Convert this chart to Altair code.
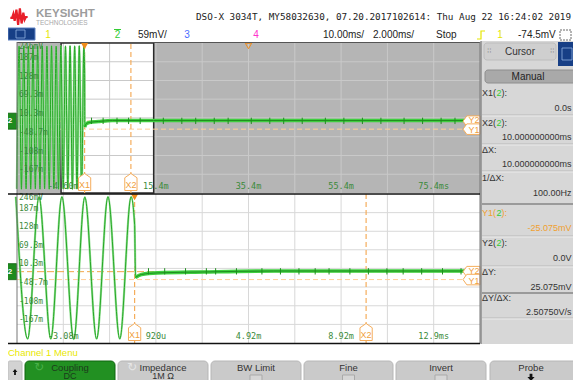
import altair as alt
import pandas as pd

# ---------------- values read from the screen ----------------
# channel 2 trace: time in ms, level in mV (extrema of the 1 kHz burst, then the settled level)
PEAK_T = [-14.14, -13.14, -12.14, -11.14, -10.14, -9.14, -8.14, -7.14, -6.14, -5.13, -4.13, -3.14, -2.15, -1.15, -0.15]
PEAK_V = [236, 237, 236, 237, 236, 237, 236, 237, 236, 237, 236, 237, 236, 237, 237]
TROUGH_T = [-14.64, -13.64, -12.64, -11.64, -10.64, -9.64, -8.64, -7.64, -6.64, -5.63, -4.62, -3.62, -2.63, -1.64, -0.64]
TROUGH_V = [-213, -214, -213, -214, -213, -214, -213, -214, -213, -214, -213, -213, -214, -213, -213]
AFTER_T = [0.0, 0.04, 0.3, 1.0, 3.0, 6.0, 14.92, 85.4]
AFTER_V = [150, -18, -9, -4, -1, 2, 2, 2]
SPIKE_TOP_T = [1.5, 4, 7, 9.5, 12, 17, 21, 24, 28, 31, 36, 40, 43, 47, 52, 56, 60, 64, 69, 73, 77, 80, 83]
SPIKE_BOT_T = [0.6, 1.3, 2.2, 3.1, 3.5, 4.4, 5.5, 6.3, 7.1, 7.8, 8.4, 9.3, 10.1, 10.9, 11.6, 12.4, 13.3, 14.1]
SPIKE_RANGE = [-9, 11]

TOP_T_DOMAIN = [-14.6, 85.4]      # 10 ms/div
BOT_T_DOMAIN = [-5.08, 14.92]     # 2 ms/div (zoom window)
MV_DOMAIN = [-226, 246]           # 59 mV/div
Y_GRID_MV = [187, 128, 69.3, 10.3, -48.7, -108, -167]
Y_LABEL_MV = [246, 187, 128, 69.3, 10.3, -48.7, -108, -167]
Y_LABELS = ["246mV", "187m", "128m", "69.3m", "10.3m", "-48.7m", "-108m", "-167m"]
TOP_T_GRID = [-4.6, 5.4, 15.4, 25.4, 35.4, 45.4, 55.4, 65.4, 75.4]
TOP_T_LABEL_AT = [-4.6, 15.4, 35.4, 55.4, 75.4]
TOP_T_LABELS = ["-4.60m", "15.4m", "35.4m", "55.4m", "75.4ms"]
BOT_T_GRID = [-3.08, -1.08, 0.92, 2.92, 4.92, 6.92, 8.92, 10.92, 12.92]
BOT_T_LABEL_AT = [-3.08, 0.92, 4.92, 8.92, 12.92]
BOT_T_LABELS = ["-3.08m", "920u", "4.92m", "8.92m", "12.9ms"]
CURSOR_X_T = [0.0, 10.0]
CURSOR_X_NAMES = ["X1", "X2"]
CURSOR_Y_MV = [0.0, -25.075]
CURSOR_Y_NAMES = ["Y2", "Y1"]
TRIGGER_T = [0.0]
DELAY_T = [35.4]

HEADER_TITLE = "DSO-X 3034T, MY58032630, 07.20.2017102614: Thu Aug 22 16:24:02 2019"
HEADER_ROW = ["1", "2", "59mV/", "3", "4", "10.00ms/", "2.000ms/", "Stop", "1", "-74.5mV"]
PANEL_LABELS = ["X1(", "X2(", "ΔX:", "1/ΔX:", "Y1(", "Y2(", "ΔY:", "ΔY/ΔX:"]
PANEL_VALUES = ["0.0s", "10.000000000ms", "10.000000000ms", "100.00Hz",
                "-25.075mV", "0.0V", "25.075mV", "2.50750V/s"]
MENU_TITLE = "Channel 1 Menu"
MENU_KEYS = ["Coupling", "Impedance", "BW Limit", "Fine", "Invert", "Probe"]
MENU_SUBS = ["DC", "1M Ω", "", "", "", ""]

SANS = "Liberation Sans"
MONO = "DejaVu Sans Mono"
LBL_GREEN = "#3a8a3a"
OR_X = "#f5ad5c"
OR_Y2 = "#f2a54a"
OR_Y1 = "#ffcf99"

ONE = pd.DataFrame({"k": [0]})
layers = []


def add(c):
    layers.append(c)


def text(s, x, y, size=9.5, color="#222", align="left", font=SANS, weight="normal"):
    add(alt.Chart(ONE).mark_text(align=align, baseline="middle", font=font, fontSize=size,
                                 fontWeight=weight, color=color)
        .encode(x=alt.value(x), y=alt.value(y), text=alt.value(s)))


def box(x1, y1, x2, y2, fill, stroke=None, sw=1.0, r=0, dash=None):
    kw = dict(fill=fill, cornerRadius=r, opacity=1)
    if stroke:
        kw.update(stroke=stroke, strokeWidth=sw)
    if dash:
        kw["strokeDash"] = dash
    add(alt.Chart(ONE).mark_rect(**kw)
        .encode(x=alt.value(x1), x2=alt.value(x2), y=alt.value(y1), y2=alt.value(y2)))


def hline(x1, x2, y, color, sw=1.0):
    add(alt.Chart(ONE).mark_rule(color=color, strokeWidth=sw)
        .encode(x=alt.value(x1), x2=alt.value(x2), y=alt.value(y)))


def vline(x, y1, y2, color, sw=1.0):
    add(alt.Chart(ONE).mark_rule(color=color, strokeWidth=sw)
        .encode(x=alt.value(x), y=alt.value(y1), y2=alt.value(y2)))


def glyph(path, x, y, size, fill=None, stroke=None, sw=1.0):
    kw = dict(shape=path, size=size, opacity=1, filled=fill is not None)
    if fill:
        kw["fill"] = fill
    else:
        kw["fill"] = "transparent"
    if stroke:
        kw.update(stroke=stroke, strokeWidth=sw)
    add(alt.Chart(ONE).mark_point(**kw).encode(x=alt.value(x), y=alt.value(y)))


wave = pd.DataFrame({"t": PEAK_T + TROUGH_T + AFTER_T,
                     "v": PEAK_V + TROUGH_V + AFTER_V}).sort_values("t")

XBADGE = "M0,-1 L0.72,-0.5 L0.72,1 L-0.72,1 L-0.72,-0.5 Z"
YBADGE = "M-1,0 L-0.55,-0.62 L1,-0.62 L1,0.62 L-0.55,0.62 Z"
GND = "M-0.7,-1 L0.7,-1 L0.7,1 L-0.7,1 Z"


def plot(xdom, xr, yr, top, grid_t, lab_t, labs, spikes):
    ydom = MV_DOMAIN
    xs = alt.Scale(domain=xdom, range=xr, nice=False, zero=False)
    ys = alt.Scale(domain=ydom, range=yr, nice=False, zero=False)

    def X(f):
        return alt.X(f"{f}:Q", scale=xs, axis=None)

    def Y(f):
        return alt.Y(f"{f}:Q", scale=ys, axis=None)

    frame = pd.DataFrame({"t0": [xdom[0]], "t1": [xdom[1]], "v0": [ydom[0]], "v1": [ydom[1]]})
    win = pd.DataFrame({"t0": [BOT_T_DOMAIN[0]], "t1": [BOT_T_DOMAIN[1]],
                        "v0": [ydom[0]], "v1": [ydom[1]]})
    if top:
        add(alt.Chart(frame).mark_rect(fill="#b5b5b5", opacity=1)
            .encode(x=X("t0"), x2=alt.X2("t1"), y=Y("v0"), y2=alt.Y2("v1")))
        add(alt.Chart(win).mark_rect(fill="white", opacity=1)
            .encode(x=X("t0"), x2=alt.X2("t1"), y=Y("v0"), y2=alt.Y2("v1")))
    gc = "#c9c9c9" if top else "#d8d8d8"
    vg = pd.DataFrame({"t": grid_t, "v0": ydom[0], "v1": ydom[1]})
    add(alt.Chart(vg).mark_rule(color=gc, strokeWidth=1)
        .encode(x=X("t"), y=Y("v0"), y2=alt.Y2("v1")))
    hg = pd.DataFrame({"v": Y_GRID_MV, "t0": xdom[0], "t1": xdom[1]})
    add(alt.Chart(hg).mark_rule(color=gc, strokeWidth=1)
        .encode(y=Y("v"), x=X("t0"), x2=alt.X2("t1")))
    if top:
        add(alt.Chart(win).mark_rect(fill="transparent", stroke="#2a2a2a", strokeWidth=1.5)
            .encode(x=X("t0"), x2=alt.X2("t1"), y=Y("v0"), y2=alt.Y2("v1")))

    # cursors
    y2 = pd.DataFrame({"v": [CURSOR_Y_MV[0]], "t0": xdom[0], "t1": xdom[1]})
    y1 = pd.DataFrame({"v": [CURSOR_Y_MV[1]], "t0": xdom[0], "t1": xdom[1]})
    add(alt.Chart(y1).mark_rule(color=OR_Y1, strokeWidth=1, strokeDash=[5, 3])
        .encode(y=Y("v"), x=X("t0"), x2=alt.X2("t1")))
    add(alt.Chart(y2).mark_rule(color=OR_Y2, strokeWidth=1, strokeDash=[7, 3])
        .encode(y=Y("v"), x=X("t0"), x2=alt.X2("t1")))
    xc = pd.DataFrame({"t": CURSOR_X_T, "name": CURSOR_X_NAMES, "v0": ydom[0], "v1": ydom[1]})
    add(alt.Chart(xc).mark_rule(color=OR_X, strokeWidth=1.2, strokeDash=[5, 3])
        .encode(x=X("t"), y=Y("v0"), y2=alt.Y2("v1")))

    # trace
    w = alt.Chart(wave)
    if not top:
        w = w.transform_filter((alt.datum.t >= -5.2) & (alt.datum.t <= xdom[1]))
    add(w.mark_line(interpolate="monotone", color="#95e095", strokeWidth=2.2)
        .encode(x=X("t"), y=Y("v")))
    add(w.mark_line(interpolate="monotone", color="#27a827", strokeWidth=1.0)
        .encode(x=X("t"), y=Y("v")))
    flat = alt.Chart(wave).transform_filter((alt.datum.t >= 0.04) & (alt.datum.t <= xdom[1]))
    add(flat.mark_line(interpolate="monotone", color="#3fcf3f", strokeWidth=3.6)
        .encode(x=X("t"), y=Y("v")))
    add(flat.mark_line(interpolate="monotone", color="#1e8e1e", strokeWidth=1.0)
        .encode(x=X("t"), y=Y("v")))
    sp = pd.DataFrame({"t": spikes, "lo": SPIKE_RANGE[0], "hi": SPIKE_RANGE[1]})
    add(alt.Chart(sp).mark_rule(color="#1f8f1f", strokeWidth=1)
        .encode(x=X("t"), y=Y("lo"), y2=alt.Y2("hi")))

    # labels
    yl = pd.DataFrame({"v": Y_LABEL_MV[1:], "s": Y_LABELS[1:]})
    add(alt.Chart(yl).mark_text(align="left", baseline="middle", dy=-4, font=MONO, fontSize=8,
                                color=LBL_GREEN)
        .encode(x=alt.value(19), y=Y("v"), text="s:N"))
    yt = pd.DataFrame({"v": Y_LABEL_MV[:1], "s": Y_LABELS[:1]})
    add(alt.Chart(yt).mark_text(align="left", baseline="middle", dy=4, font=MONO, fontSize=8,
                                color=LBL_GREEN)
        .encode(x=alt.value(19), y=Y("v"), text="s:N"))
    tl = pd.DataFrame({"t": lab_t, "s": labs})
    add(alt.Chart(tl).mark_text(align="center", baseline="middle", font=MONO, fontSize=8.5,
                                color=LBL_GREEN)
        .encode(x=X("t"), y=alt.value(yr[0] - 7), text="s:N"))

    # markers
    by = yr[0] - 11
    add(alt.Chart(xc).mark_point(shape=XBADGE, size=289, filled=True, fill="white",
                                 stroke=OR_X, strokeWidth=1, opacity=1)
        .encode(x=X("t"), y=alt.value(by)))
    add(alt.Chart(xc).mark_text(font=SANS, fontSize=9, color="#f0a040", baseline="middle")
        .encode(x=X("t"), y=alt.value(by + 2.5), text="name:N"))
    yc = pd.DataFrame({"v": CURSOR_Y_MV, "name": CURSOR_Y_NAMES})
    for i in range(2):
        one = yc.iloc[[i]]
        add(alt.Chart(one).mark_point(shape=YBADGE, size=289, filled=True, fill="white",
                                      stroke=OR_X, strokeWidth=1, opacity=1)
            .encode(x=alt.value(471.5), y=Y("v")))
        add(alt.Chart(one).mark_text(font=SANS, fontSize=9, color="#f0a040", baseline="middle",
                                     dy=(-1 if i == 0 else 1))
            .encode(x=alt.value(474), y=Y("v"), text="name:N"))
    tr = pd.DataFrame({"t": TRIGGER_T})
    add(alt.Chart(tr).mark_point(shape="triangle-down", size=55, filled=True, fill="#f08c1a",
                                 opacity=1)
        .encode(x=X("t"), y=alt.value(yr[1] + 3)))
    if top:
        dl = pd.DataFrame({"t": DELAY_T})
        add(alt.Chart(dl).mark_point(shape="triangle-down", size=40, filled=False,
                                     stroke="#f08c1a", strokeWidth=1, opacity=1)
            .encode(x=X("t"), y=alt.value(yr[1] + 3)))
    gd = pd.DataFrame({"v": [0.0]})
    add(alt.Chart(gd).mark_point(shape=GND, size=256, filled=True, fill="#1e8a1e",
                                 stroke="#0f5f0f", strokeWidth=0.8, opacity=1)
        .encode(x=alt.value(11), y=Y("v")))
    add(alt.Chart(gd).mark_text(font=SANS, fontSize=8, fontWeight="bold", color="white",
                                baseline="middle")
        .encode(x=alt.value(10), y=Y("v"), text=alt.value("2")))


# ---------------- header ----------------
glyph("M-1,0.1 L-0.8,0.1 L-0.65,-0.35 L-0.5,0.45 L-0.3,-0.85 L-0.1,0.9 L0.1,-1 L0.3,0.75 "
      "L0.5,-0.5 L0.65,0.3 L0.8,0 L1,0", 19, 17, 300, stroke="#e8202a", sw=2.2)
text("KEYSIGHT", 36, 13.5, size=11.5, color="#9c9c9c", weight="bold")
text("TECHNOLOGIES", 36, 23, size=6.5, color="#a8a8a8")
text(HEADER_TITLE, 196, 17, size=9.3, color="#222", font=MONO)
box(8, 28, 35, 40, "#173f86", stroke="#5f82c2", sw=1)
box(16, 30, 25, 38, "transparent", stroke="#8fb0e0", sw=0.8)
text(HEADER_ROW[0], 48, 35, size=10, color="#e6e600", align="center")
hline(114, 121, 29.5, "#33cc33", 1)
text(HEADER_ROW[1], 117.5, 35, size=10, color="#33cc33", align="center")
text(HEADER_ROW[2], 138, 35, size=10)
text(HEADER_ROW[3], 187, 35, size=10, color="#4a6cff", align="center")
text(HEADER_ROW[4], 256, 35, size=10, color="#ff33cc", align="center")
text(HEADER_ROW[5], 323, 35, size=10)
text(HEADER_ROW[6], 373, 35, size=10)
text(HEADER_ROW[7], 436, 35, size=10)
glyph("M-1,1 L0,1 L0,-1 L1,-1", 481, 35, 64, stroke="#e6e600", sw=1.2)
text(HEADER_ROW[8], 500, 35, size=10, color="#e6e600", align="center")
text(HEADER_ROW[9], 518, 35, size=10)
box(560, 30, 571, 40, "transparent", stroke="#444", sw=0.8, dash=[2, 1])

# ---------------- plots ----------------
plot(TOP_T_DOMAIN, [17, 480], [193, 43], True, TOP_T_GRID, TOP_T_LABEL_AT, TOP_T_LABELS, SPIKE_TOP_T)
plot(BOT_T_DOMAIN, [17, 480], [343, 194], False, BOT_T_GRID, BOT_T_LABEL_AT, BOT_T_LABELS, SPIKE_BOT_T)
hline(17, 480, 42.5, "#555", 1)
vline(17, 42, 343, "#777", 1)
vline(480, 42, 343, "#777", 1)
hline(8, 480, 194, "#111", 1.5)
hline(8, 480, 343.5, "#111", 1.5)

# ---------------- right panel ----------------
box(481, 41, 581, 344, "#d7d7d7")
vline(481, 41, 344, "#7a7a7a", 1.2)
box(484, 43, 556, 60, "#cfcfcf", stroke="#bdbdbd", sw=1, r=3)
text("Cursor", 520, 51.5, size=10, color="#333", align="center")
text("⁞⁞", 487, 51, size=8, color="#999")
text("⁞⁞", 550, 51, size=8, color="#999")
box(558, 42, 581, 66, "#173f86")
box(562, 48, 572, 60, "transparent", stroke="#8fb0e0", sw=0.8)
box(485, 70, 578, 83, "#a9a9a9", stroke="#8e8e8e", sw=1, r=3)
text("Manual", 528, 76.5, size=10, color="#222", align="center")

label_y = [93, 123, 150, 178, 213, 243, 272, 298]
value_y = [108, 137, 164, 193, 228, 258, 287, 312]
for i, (lab, val) in enumerate(zip(PANEL_LABELS, PANEL_VALUES)):
    col = "#f0a030" if i == 4 else "#333"
    text(lab, 482, label_y[i], size=9, color=col)
    if lab.endswith("("):
        text("2", 496.5, label_y[i], size=9, color="#33cc33")
        text("):", 501.5, label_y[i], size=9, color=col)
    text(val, 571.5, value_y[i], size=9, color=col, align="right")
for y in [115, 144, 171, 236, 266, 318]:
    hline(482, 580, y, "#b9b9b9", 1)
    hline(482, 580, y + 1, "#ececec", 1)
for y in [204, 293]:
    hline(482, 580, y, "#9a9a9a", 2.2)

# ---------------- bottom menu ----------------
text(MENU_TITLE, 8, 353, size=9.5, color="#e8e800")
box(8, 361, 22, 392, "#d2d2d2", stroke="#bdbdbd", sw=1, r=2)
glyph("M0,-1 L0.8,0 L0.3,0 L0.3,1 L-0.3,1 L-0.3,0 L-0.8,0 Z", 15, 372, 36, fill="#111")
key_x = [(25, 115), (118, 208), (211, 301), (304, 393), (396, 486), (490, 581)]
for i, ((a, b), k, s) in enumerate(zip(key_x, MENU_KEYS, MENU_SUBS)):
    cx = (a + b) / 2 if i < 5 else 531
    if i == 0:
        box(a, 361, b, 392, "#229022", stroke="#0f640f", sw=1, r=4)
    else:
        box(a, 361, b, 392, "#cacaca", stroke="#b6b6b6", sw=1, r=4)
    text(k, cx, 367.5, size=9.5, color="#1c3a1c" if i == 0 else "#333", align="center")
    if s:
        text(s, cx, 376, size=9, color="#1c3a1c" if i == 0 else "#333", align="center")
    if i in (0, 1):
        text("↻", a + 14, 367, size=12, color="#48b048" if i == 0 else "#e6e6e6", align="center",
             font="DejaVu Sans")
    if i in (2, 3, 4):
        box(cx - 6, 375, cx + 6, 392, "#d6d6d6", stroke="#a9a9a9", sw=1)
    if i == 5:
        glyph("M0,1 L0.9,0 L0.35,0 L0.35,-0.8 L-0.35,-0.8 L-0.35,0 L-0.9,0 Z", cx, 377, 64,
              fill="#111")

chart = (alt.layer(*layers)
         .properties(width=581, height=388,
                     autosize=alt.AutoSizeParams(type="none"),
                     padding={"left": -8, "top": -8, "right": -8, "bottom": -8},
                     background="white")
         .resolve_scale(x="independent", y="independent")
         .configure_view(strokeWidth=0))

chart.save("out.html", embed_options={"renderer": "svg", "actions": False})
